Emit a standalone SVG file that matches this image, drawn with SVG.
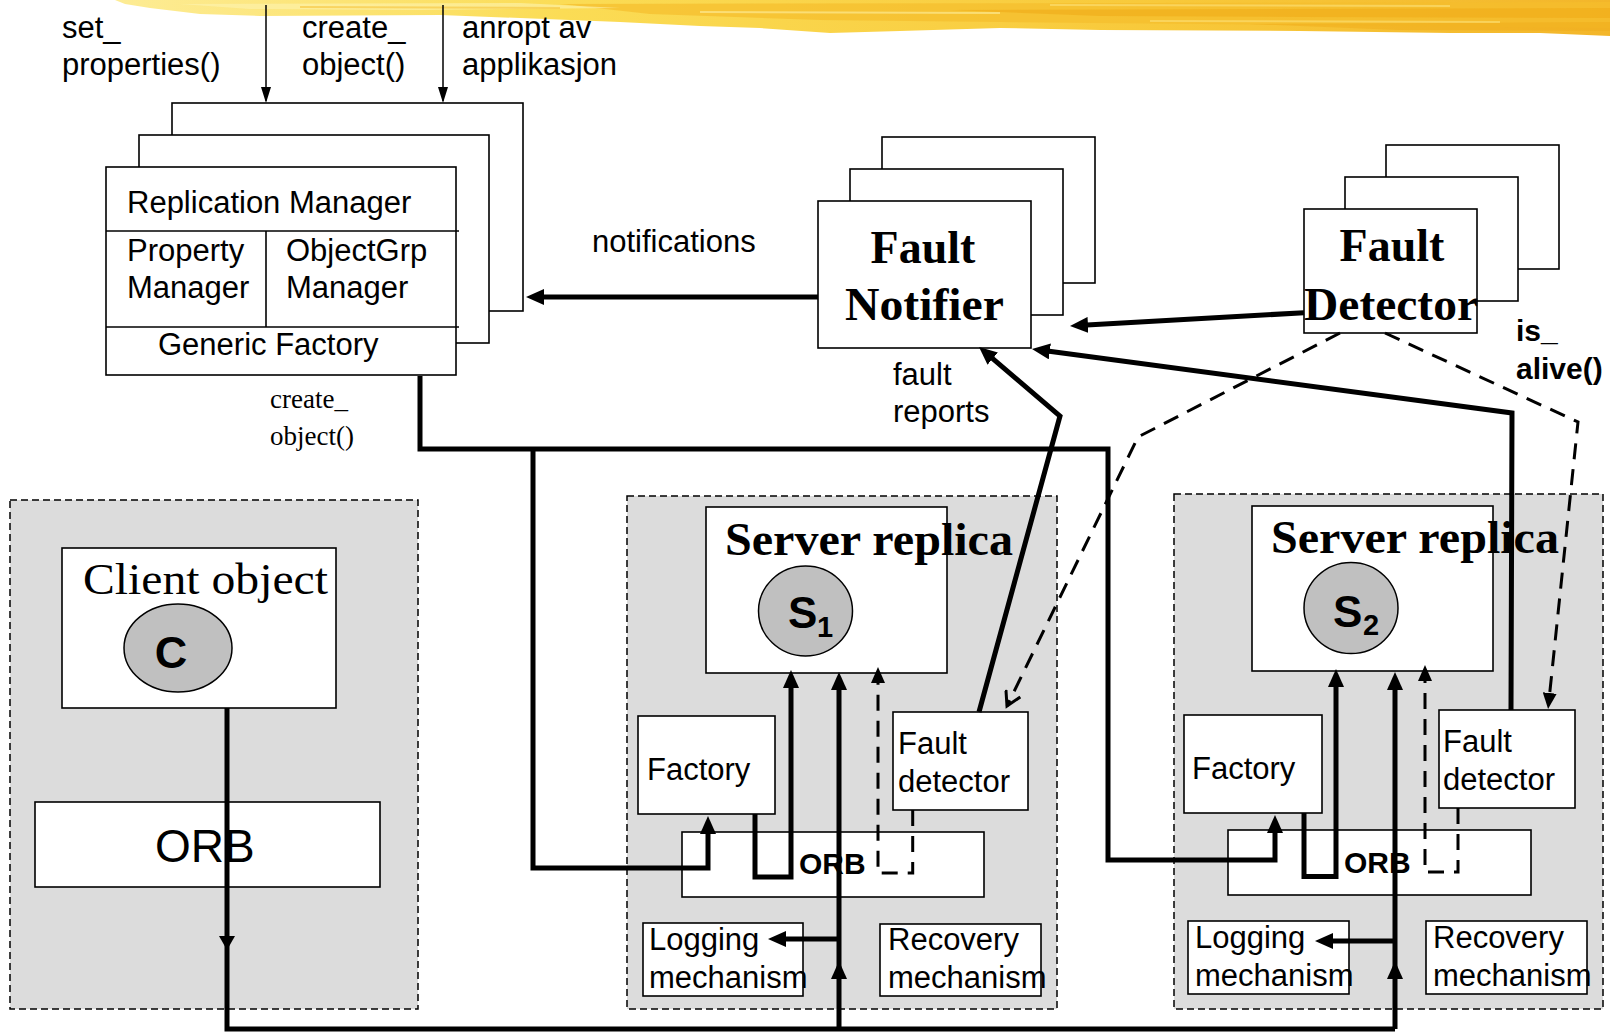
<svg xmlns="http://www.w3.org/2000/svg" width="1610" height="1032" viewBox="0 0 1610 1032">
  <style>
    .box { fill: #fff; stroke: #000; stroke-width: 1.6; }
    .grp { fill: #dcdcdc; stroke: #000; stroke-width: 1.5; stroke-dasharray: 7 4; }
    .oval { fill: #c0c0c0; stroke: #000; stroke-width: 1.5; }
    .sep { stroke: #000; stroke-width: 1.6; fill: none; }
    .t { font-family: "Liberation Sans", Arial, sans-serif; font-size: 31px; fill: #000; }
    .tb { font-family: "Liberation Sans", Arial, sans-serif; font-weight: bold; fill: #000; }
    .s { font-family: "Liberation Serif", "Times New Roman", serif; fill: #000; }
    .sb { font-family: "Liberation Serif", "Times New Roman", serif; font-weight: bold; fill: #000; }
    .thick { fill: none; stroke: #000; stroke-width: 5; stroke-linejoin: miter; }
    .dash { fill: none; stroke: #000; stroke-width: 3; stroke-dasharray: 16 10; }
    .thin { fill: none; stroke: #000; stroke-width: 1.5; }
    .head { fill: #000; }
  </style>
  <defs>
    <marker id="ah" markerUnits="userSpaceOnUse" markerWidth="18" markerHeight="16" refX="10" refY="8" orient="auto">
      <path d="M0,0 L18,8 L0,16 z" fill="#000"/>
    </marker>
    <marker id="ahd" markerUnits="userSpaceOnUse" markerWidth="16" markerHeight="14" refX="9" refY="7" orient="auto">
      <path d="M0,0 L16,7 L0,14 z" fill="#000"/>
    </marker>
    <marker id="aho" markerUnits="userSpaceOnUse" markerWidth="18" markerHeight="18" refX="15" refY="9" orient="auto">
      <path d="M1,1 L15,9 L1,17" fill="none" stroke="#000" stroke-width="3" stroke-dasharray="none"/>
    </marker>
    <marker id="aht" markerUnits="userSpaceOnUse" markerWidth="16" markerHeight="10" refX="14" refY="5" orient="auto">
      <path d="M0,0 L16,5 L0,10 z" fill="#000"/>
    </marker>
    <linearGradient id="brush" x1="0" y1="0" x2="1" y2="0">
      <stop offset="0" stop-color="#fdec95"/>
      <stop offset="0.3" stop-color="#fbdc55"/>
      <stop offset="0.7" stop-color="#f8c93a"/>
      <stop offset="1" stop-color="#f3b62a"/>
    </linearGradient>
  </defs>

  <!-- brush stroke banner along the top edge -->
  <g id="banner">
    <polygon fill="url(#brush)" points="115,0 1610,0 1610,36 1540,33 1450,33 1300,31 1100,30 1000,28 900,31 830,33 760,28 700,26 620,22 520,18 440,15 260,16 200,14 150,8 125,4"/>
    <polygon fill="#f5bd2c" opacity="0.7" points="560,4 1610,2 1610,28 1400,26 1200,24 1000,22 820,20 650,14"/>
    <polygon fill="#efa915" opacity="0.55" points="950,10 1610,8 1610,18 1300,17 1100,16"/>
    <polygon fill="#fef3b0" opacity="0.6" points="180,4 520,3 620,8 420,10 250,9"/>
    <polygon fill="#f0ac1a" opacity="0.5" points="1250,24 1610,22 1610,31 1400,30"/>
    <g stroke-width="2" opacity="0.6">
      <line x1="700" y1="12" x2="1000" y2="13" stroke="#fef0a0"/>
      <line x1="1050" y1="5" x2="1450" y2="6" stroke="#fde27a"/>
      <line x1="300" y1="7" x2="560" y2="8" stroke="#f7c43a"/>
      <line x1="1150" y1="21" x2="1500" y2="22" stroke="#fde27a"/>
    </g>
  </g>

  <!-- top-level call labels -->
  <g id="calls">
    <text class="t" x="62" y="38">set_</text>
    <text class="t" x="62" y="75">properties()</text>
    <text class="t" x="302" y="38">create_</text>
    <text class="t" x="302" y="75">object()</text>
    <text class="t" x="462" y="38">anropt av</text>
    <text class="t" x="462" y="75">applikasjon</text>
  </g>

  <!-- Replication Manager (stacked replicas) -->
  <g id="replication-manager">
    <rect class="box" x="172" y="103" width="351" height="208"/>
    <rect class="box" x="139" y="135" width="350" height="208"/>
    <rect class="box" x="106" y="167" width="350" height="208"/>
    <line class="sep" x1="106" y1="231" x2="459" y2="231"/>
    <line class="sep" x1="106" y1="327" x2="459" y2="327"/>
    <line class="sep" x1="266" y1="231" x2="266" y2="327"/>
    <text class="t" x="127" y="213">Replication Manager</text>
    <text class="t" x="127" y="261">Property</text>
    <text class="t" x="127" y="298">Manager</text>
    <text class="t" x="286" y="261">ObjectGrp</text>
    <text class="t" x="286" y="298">Manager</text>
    <text class="t" x="158" y="355">Generic Factory</text>
    <text class="s" x="270" y="408" font-size="27">create_</text>
    <text class="s" x="270" y="445" font-size="27">object()</text>
  </g>

  <!-- Fault Notifier (stacked replicas) -->
  <g id="fault-notifier">
    <rect class="box" x="882" y="137" width="213" height="146"/>
    <rect class="box" x="850" y="169" width="213" height="146"/>
    <rect class="box" x="818" y="201" width="213" height="147"/>
    <text class="sb" x="923" y="263" font-size="46" text-anchor="middle">Fault</text>
    <text class="sb" x="845" y="320" font-size="46" textLength="159" lengthAdjust="spacingAndGlyphs">Notifier</text>
  </g>

  <!-- Fault Detector (stacked replicas) -->
  <g id="fault-detector">
    <rect class="box" x="1386" y="145" width="173" height="124"/>
    <rect class="box" x="1345" y="177" width="173" height="124"/>
    <rect class="box" x="1304" y="209" width="173" height="124"/>
    <text class="sb" x="1392" y="261" font-size="46" text-anchor="middle">Fault</text>
    <text class="sb" x="1304" y="320" font-size="46" textLength="174" lengthAdjust="spacingAndGlyphs">Detector</text>
  </g>

  <!-- Client host -->
  <g id="client-host">
    <rect class="grp" x="10" y="500" width="408" height="509"/>
    <g id="client-object">
      <rect class="box" x="62" y="548" width="274" height="160"/>
      <text class="s" x="83" y="594" font-size="45" textLength="245" lengthAdjust="spacingAndGlyphs">Client object</text>
      <ellipse class="oval" cx="178" cy="648" rx="54" ry="44"/>
      <text class="tb" x="171" y="668" font-size="45" text-anchor="middle">C</text>
    </g>
    <g id="client-orb">
      <rect class="box" x="35" y="802" width="345" height="85"/>
      <text class="t" x="155" y="862" style="font-size:46px">ORB</text>
    </g>
  </g>

  <!-- Server host 1 -->
  <g id="server-host-1">
    <rect class="grp" x="627" y="496" width="430" height="513"/>
    <g id="server-replica-1">
      <rect class="box" x="706" y="507" width="241" height="166"/>
      <text class="sb" x="725" y="555" font-size="47" textLength="288" lengthAdjust="spacingAndGlyphs">Server replica</text>
      <ellipse class="oval" cx="805.5" cy="611" rx="47" ry="45"/>
      <text class="tb" x="788" y="628" font-size="44">S</text>
      <text class="tb" x="817" y="637" font-size="29">1</text>
    </g>
    <g id="factory-1">
      <rect class="box" x="638" y="716" width="137" height="98"/>
      <text class="t" x="647" y="780">Factory</text>
    </g>
    <g id="fault-detector-1">
      <rect class="box" x="893" y="712" width="135" height="98"/>
      <text class="t" x="898" y="754">Fault</text>
      <text class="t" x="898" y="792">detector</text>
    </g>
    <g id="orb-1">
      <rect class="box" x="682" y="832" width="302" height="65"/>
      <text class="tb" x="799" y="874" font-size="30">ORB</text>
    </g>
    <g id="logging-1">
      <rect class="box" x="643" y="923" width="160" height="73"/>
      <text class="t" x="649" y="950">Logging</text>
      <text class="t" x="649" y="988">mechanism</text>
    </g>
    <g id="recovery-1">
      <rect class="box" x="880" y="924" width="161" height="72"/>
      <text class="t" x="888" y="950">Recovery</text>
      <text class="t" x="888" y="988">mechanism</text>
    </g>
  </g>

  <!-- Server host 2 -->
  <g id="server-host-2">
    <rect class="grp" x="1174" y="494" width="429" height="515"/>
    <g id="server-replica-2">
      <rect class="box" x="1252" y="506" width="241" height="165"/>
      <text class="sb" x="1271" y="553" font-size="47" textLength="288" lengthAdjust="spacingAndGlyphs">Server replica</text>
      <ellipse class="oval" cx="1351" cy="608" rx="47" ry="45.5"/>
      <text class="tb" x="1333" y="627" font-size="44">S</text>
      <text class="tb" x="1363" y="635" font-size="29">2</text>
    </g>
    <g id="factory-2">
      <rect class="box" x="1184" y="715" width="138" height="98"/>
      <text class="t" x="1192" y="779">Factory</text>
    </g>
    <g id="fault-detector-2">
      <rect class="box" x="1439" y="710" width="136" height="98"/>
      <text class="t" x="1443" y="752">Fault</text>
      <text class="t" x="1443" y="790">detector</text>
    </g>
    <g id="orb-2">
      <rect class="box" x="1228" y="830" width="303" height="65"/>
      <text class="tb" x="1344" y="873" font-size="30">ORB</text>
    </g>
    <g id="logging-2">
      <rect class="box" x="1188" y="921" width="161" height="73"/>
      <text class="t" x="1195" y="948">Logging</text>
      <text class="t" x="1195" y="986">mechanism</text>
    </g>
    <g id="recovery-2">
      <rect class="box" x="1426" y="921" width="161" height="73"/>
      <text class="t" x="1433" y="948">Recovery</text>
      <text class="t" x="1433" y="986">mechanism</text>
    </g>
  </g>

  <!-- free-standing labels -->
  <g id="labels">
    <text class="t" x="592" y="252">notifications</text>
    <text class="t" x="893" y="385">fault</text>
    <text class="t" x="893" y="422">reports</text>
    <text class="tb" x="1516" y="341" font-size="30">is_</text>
    <text class="tb" x="1516" y="379" font-size="30">alive()</text>
  </g>

  <!-- connectors -->
  <g id="connectors">
    <!-- external calls into the Replication Manager -->
    <line class="thin" x1="266" y1="5" x2="266" y2="101" marker-end="url(#aht)"/>
    <line class="thin" x1="443" y1="5" x2="443" y2="101" marker-end="url(#aht)"/>

    <!-- notifications to the Replication Manager -->
    <line class="thick" x1="818" y1="297" x2="534" y2="297" marker-end="url(#ah)"/>

    <!-- Fault Detector reports to Fault Notifier -->
    <line class="thick" x1="1304" y1="312.7" x2="1078" y2="325.5" marker-end="url(#ah)"/>

    <!-- fault reports from host fault detectors -->
    <polyline class="thick" points="979,712 1060,416 985.1,352.2" marker-end="url(#ah)"/>
    <polyline class="thick" points="1511,710 1512,413 1039.9,350.1" marker-end="url(#ah)"/>

    <!-- is_alive() polling -->
    <polyline class="dash" points="1340,333 1138,437 1007,706" marker-end="url(#aho)"/>
    <polyline class="dash" points="1385,333 1578,422 1548.8,702" marker-end="url(#ahd)"/>

    <!-- Generic Factory create_object() to host factories -->
    <polyline class="thick" points="420,376 420,449 1108,449 1108,860 1275,860 1275,823" marker-end="url(#ah)"/>
    <polyline class="thick" points="533,449 533,868 708,868 708,824" marker-end="url(#ah)"/>

    <!-- host 1 internals -->
    <polyline class="thick" points="755,814 755,877 791,877 791,678" marker-end="url(#ah)"/>
    <line class="thick" x1="839" y1="1029" x2="839" y2="680" marker-end="url(#ah)"/>
    <line class="thick" x1="839" y1="939" x2="776" y2="939" marker-end="url(#ah)"/>
    <polyline class="dash" points="912.7,810 912.7,873 878,873 878,674" marker-end="url(#ahd)"/>
    <polygon class="head" points="839,961 831,979 847,979"/>

    <!-- host 2 internals -->
    <polyline class="thick" points="1304,813 1304,876.5 1336,876.5 1336,677" marker-end="url(#ah)"/>
    <line class="thick" x1="1395" y1="1029" x2="1395" y2="680" marker-end="url(#ah)"/>
    <line class="thick" x1="1395" y1="941" x2="1323" y2="941" marker-end="url(#ah)"/>
    <polyline class="dash" points="1458,808 1458,872 1425,872 1425,672" marker-end="url(#ahd)"/>
    <polygon class="head" points="1395,961 1387,979 1403,979"/>

    <!-- client request path over the network -->
    <polyline class="thick" points="227,708 227,1029 1395,1029"/>
    <polygon class="head" points="227,950 219,936 235,936"/>
  </g>
</svg>
